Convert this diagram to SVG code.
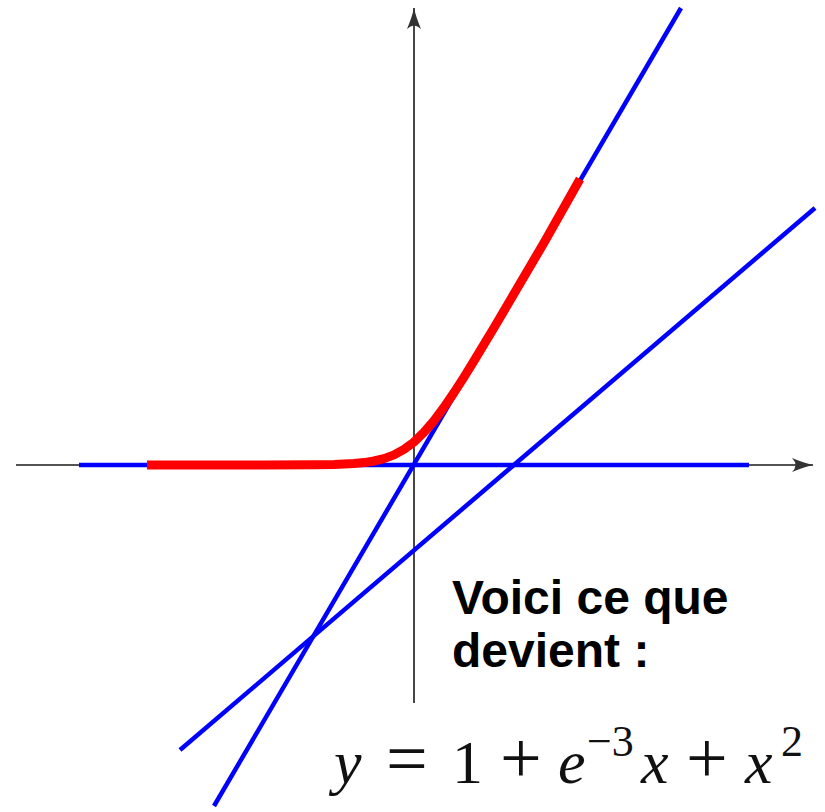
<svg xmlns="http://www.w3.org/2000/svg" width="825" height="812" viewBox="0 0 825 812">
<style>
.axis{stroke:#1a1a1a;stroke-width:1.6;fill:none}
.blue{stroke:#0000ff;stroke-width:4.5;fill:none;stroke-linecap:butt}
.red{stroke:#ff0000;stroke-width:9;fill:none;stroke-linecap:butt;stroke-linejoin:round}
.lbl{font-family:"Liberation Sans",Arial,sans-serif;font-weight:bold;font-size:48px;fill:#000}
.m{font-family:"Liberation Serif","Times New Roman",serif;font-size:62px;fill:#111}
.mi{font-style:italic}
.op{font-size:74px}
.sup{font-size:44px}
</style>
<defs>
<marker id="arr" markerWidth="24" markerHeight="20" refX="22" refY="10" orient="auto" markerUnits="userSpaceOnUse">
<path d="M1,3 Q13,8 22,10 Q13,12 1,17 Q8,10 1,3 Z" fill="#333"/>
</marker>
</defs>
<g id="axes">
<line class="axis" x1="16" y1="465" x2="813" y2="465" marker-end="url(#arr)"/>
<line class="axis" x1="414" y1="703" x2="414" y2="8" marker-end="url(#arr)"/>
</g>
<g id="connectors">
<line id="hline" class="blue" x1="79" y1="465" x2="749" y2="465"/>
<line id="steep" class="blue" x1="214" y1="806" x2="681" y2="8"/>
<line id="shallow" class="blue" x1="180" y1="750" x2="815" y2="208"/>
<polyline id="curve" class="red" points="147,465 264,465 314,464.8 334,464.5 354,463.5 364,462.6 374,461 384,458.6 394,454.9 404,449.4 414,442 424,432.3 434,420.7 444,407.3 454,392.6 464,377.1 474,360.9 494,327.7 514,293.8 544,242.7 580,179"/>
</g>
<g id="caption">
<text class="lbl" x="452" y="614">Voici ce que</text>
<text class="lbl" x="452" y="667">devient :</text>
</g>
<g id="formula">
<text class="m" y="783"><tspan class="mi" x="334">y</tspan><tspan class="op" x="386">=</tspan><tspan x="452">1</tspan><tspan class="op" x="500">+</tspan><tspan class="mi" x="558">e</tspan><tspan class="sup" x="587" y="756">−3</tspan><tspan class="mi" x="641" y="783">x</tspan><tspan class="op" x="686">+</tspan><tspan class="mi" x="745">x</tspan><tspan class="sup" x="781" y="756">2</tspan></text>
</g>
</svg>
